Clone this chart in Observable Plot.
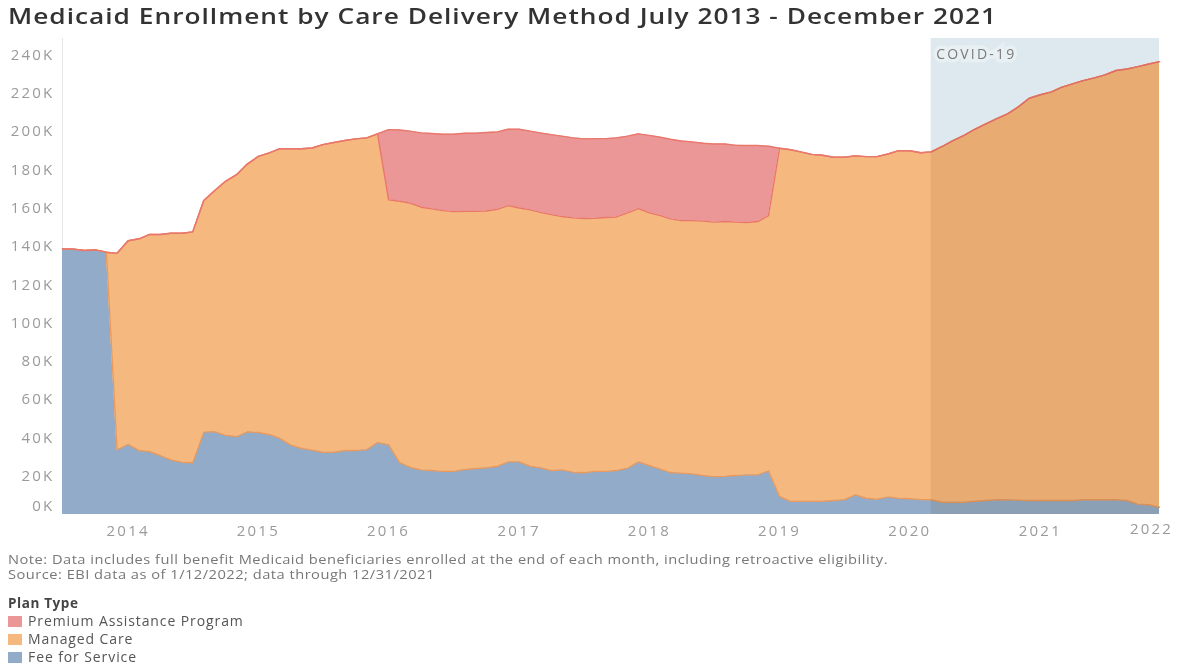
<!DOCTYPE html>
<html>
<head>
<meta charset="utf-8">
<script src="https://cdn.jsdelivr.net/npm/d3@7"></script>
<script src="https://cdn.jsdelivr.net/npm/@observablehq/plot@0.6"></script>
<style>
  body { margin: 0; background: #fff; font-family: "Open Sans", sans-serif; width: 1177px; height: 665px; position: relative; overflow: hidden; }
  #title { position: absolute; left: 8px; top: 6px; font-size: 21px; line-height: 21px; font-weight: 600; color: #333; letter-spacing: 0.8px; white-space: nowrap; transform-origin: 0 0; }
  #chart { position: absolute; left: 0; top: 30px; }
  #note { position: absolute; left: 8px; top: 552px; font-size: 12px; line-height: 15px; color: #777; letter-spacing: 0.4px; white-space: nowrap; transform-origin: 0 0; }
  #legend { position: absolute; left: 8px; top: 594px; color: #555; }
  #legend .head { font-size: 13.5px; font-weight: 700; color: #444; line-height: 18px; letter-spacing: 0.6px; }
  #legend .item { font-size: 14px; line-height: 18px; height: 18px; display: flex; align-items: center; letter-spacing: 0.9px; white-space: nowrap; }
  #legend .sw { width: 14px; height: 11px; margin-right: 6px; }
</style>
</head>
<body>
<div id="title">Medicaid Enrollment by Care Delivery Method July 2013 - December 2021</div>
<div id="chart"></div>
<div id="note"><span id="note1">Note: Data includes full benefit Medicaid beneficiaries enrolled at the end of each month, including retroactive eligibility.</span><br>Source: EBI data as of 1/12/2022; data through 12/31/2021</div>
<div id="legend"></div>
<script>
// Months July 2013 .. December 2021
const months = d3.utcMonth.range(new Date(Date.UTC(2013, 6, 1)), new Date(Date.UTC(2022, 0, 1)));

const seriesNames = ["Fee for Service", "Managed Care", "Premium Assistance Program"];
const legendOrder = ["Premium Assistance Program", "Managed Care", "Fee for Service"];

const feeForService = [
  138700, 138600, 137900, 138200, 137000,
  33800, 36600, 33400, 32900, 30800, 28500, 27300, 27000,
  43000, 43300, 41300, 40700, 43200, 42800, 41800, 39900, 36400, 34600, 33600, 32500, 32500, 33400, 33400, 33900, 37600,
  36500, 27100, 24700, 23300, 23000, 22500, 22500, 23500, 24000, 24400, 25200, 27500, 27500, 25200, 24500, 23000, 23300, 22100,
  21800, 22500, 22500, 23000, 24200, 27500, 25600, 23700, 21900, 21600, 21200, 20400, 19800, 20000, 20400, 20700, 20700, 22800,
  9400, 6900, 6900, 6900, 6900, 7300, 7700, 10300, 8500, 8000, 9200, 8500, 8200, 7800, 7700, 6400, 6400, 6400,
  6900, 7300, 7700, 7700, 7500, 7300, 7300, 7300, 7300, 7300, 7700, 7700, 7700, 7700, 7300, 5400, 5100, 3800
];
const managedCare = [
  0, 0, 0, 0, 0,
  102600, 106400, 110600, 113300, 115400, 118400, 119600, 120600,
  121000, 125900, 132700, 136800, 139800, 144200, 147100, 151100, 154600, 156400, 157800, 160700, 161800, 161900, 162800, 162800, 161200,
  127800, 136500, 137900, 137200, 136600, 136200, 135700, 134900, 134400, 134100, 134200, 133800, 132600, 133900, 133300, 133600, 132300, 132800,
  132800, 132200, 132600, 132400, 133300, 132300, 131900, 132400, 132500, 131900, 132300, 132800, 132900, 133000, 132300, 131800, 132300, 133300,
  181900, 183600, 182500, 181200, 180700, 179300, 178900, 177000, 178400, 178900, 179100, 181500, 181800, 181100, 181700, 185800, 188900, 191600,
  194300, 196700, 199100, 201500, 205500, 210100, 211900, 213400, 215800, 217600, 218900, 220300, 221900, 224200, 225400, 228500, 230200, 232700
];
const premiumAssistance = [
  0, 0, 0, 0, 0,
  0, 0, 0, 0, 0, 0, 0, 0,
  0, 0, 0, 0, 0, 0, 0, 0, 0, 0, 0, 0, 0, 0, 0, 0, 0,
  36700, 37200, 37600, 38800, 39400, 39900, 40400, 40700, 40700, 41000, 40400, 39900, 41100, 41100, 41500, 41800, 42000, 41800,
  41600, 41600, 41200, 41300, 40100, 39000, 40500, 40900, 41600, 41600, 41100, 40700, 40800, 40500, 40100, 40200, 39700, 36200,
  0, 0, 0, 0, 0, 0, 0, 0, 0, 0, 0, 0, 0, 0, 0, 0, 0, 0,
  0, 0, 0, 0, 0, 0, 0, 0, 0, 0, 0, 0, 0, 0, 0, 0, 0, 0
];

const yTickValues = [20000, 40000, 60000, 80000, 100000, 120000, 140000, 160000, 180000, 200000, 220000, 240000];
const yearTicks = [2014, 2015, 2016, 2017, 2018, 2019, 2020, 2021];
const lastYearLabel = "2022";
const covidLabel = "COVID-19";
const covidStart = new Date(Date.UTC(2020, 2, 1));

const fillColors = {"Fee for Service": "#92abc9", "Managed Care": "#f5b97f", "Premium Assistance Program": "#eb9697"};
const strokeColors = {"Fee for Service": "#e99a5c", "Managed Care": "#e9786c", "Premium Assistance Program": "#e9786c"};

const seriesValues = [feeForService, managedCare, premiumAssistance];
const rows = [];
seriesNames.forEach((name, s) => months.forEach((m, i) => rows.push({date: m, type: name, value: seriesValues[s][i]})));
const totals = months.map((m, i) => ({date: m, total: feeForService[i] + managedCare[i] + premiumAssistance[i]}));
const covidRows = totals.filter(d => d.date >= covidStart);
const covid = [{start: covidStart, end: months[months.length - 1], label: covidLabel}];

const yMax = 248600;

const chart = Plot.plot({
  width: 1177,
  height: 516,
  marginLeft: 62,
  marginRight: 18,
  marginTop: 8,
  marginBottom: 32,
  x: {type: "utc", domain: [months[0], months[months.length - 1]]},
  y: {domain: [0, yMax]},
  color: {type: "identity"},
  style: {fontFamily: "'Open Sans', sans-serif", fontSize: "15px", color: "#9a9a9a", background: "white", letterSpacing: "2.2px"},
  marks: [
    Plot.rect(covid, {x1: "start", x2: "end", fill: "#dde9ef"}),
    Plot.ruleX([months[0]], {stroke: "#e6e6e6"}),
    Plot.areaY(rows, {x: "date", y: "value", z: "type", fill: d => fillColors[d.type]}),
    Plot.lineY(rows, Plot.stackY2({x: "date", y: "value", z: "type", stroke: d => strokeColors[d.type], strokeWidth: 1.4})),
    Plot.areaY(covidRows, {x: "date", y: "total", fill: "#f2ede6", mixBlendMode: "multiply"}),
    Plot.text(covid, {x: "start", frameAnchor: "top", text: "label", textAnchor: "start", dx: 5, dy: 11, fill: "#7a7a7a", stroke: "#e8f0f3", strokeWidth: 7, strokeLinejoin: "miter", paintOrder: "stroke", fontSize: 14, style: "letter-spacing:1.2px"}),
    Plot.axisY({ticks: yTickValues, tickSize: 0, tickPadding: 8, tickFormat: d => d / 1000 + "K"}),
    Plot.text([0], {frameAnchor: "left", y: d => d, text: d => d / 1000 + "K", textAnchor: "end", dx: -8, dy: -8, fill: "#9a9a9a"}),
    Plot.axisX({ticks: yearTicks.map(y => new Date(Date.UTC(y, 0, 1))), tickSize: 0, tickPadding: 11, tickFormat: d3.utcFormat("%Y")}),
    Plot.text([lastYearLabel], {x: months[months.length - 1], frameAnchor: "bottom", text: d => d, dx: -8, dy: 19, fill: "#9a9a9a"})
  ]
});
document.getElementById("chart").appendChild(chart);

const legend = document.getElementById("legend");
legend.innerHTML = '<div class="head">Plan Type</div>' + legendOrder.map(n =>
  `<div class="item"><div class="sw" style="background:${fillColors[n]}"></div><span>${n}</span></div>`).join("");

// stretch text blocks horizontally to match reference widths
function fit(el, target) {
  const w = el.getBoundingClientRect().width;
  if (w > 0) el.style.transform = `scaleX(${target / w})`;
}
const t = document.getElementById("title");
t.style.display = "inline-block";
fit(t, 989);
const n1 = document.getElementById("note1");
const nw = n1.getBoundingClientRect().width;
document.getElementById("note").style.transform = `scaleX(${880 / nw})`;
</script>
</body>
</html>
